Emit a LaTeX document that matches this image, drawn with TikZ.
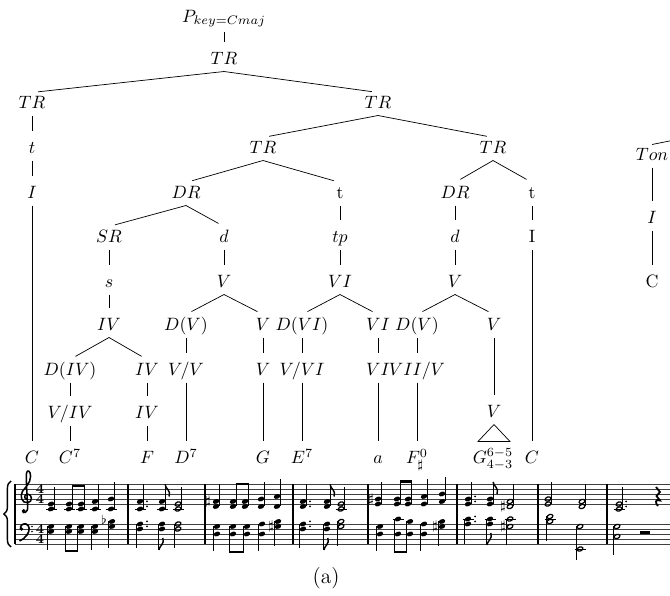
\documentclass[tikz,border=0pt]{standalone}
\usetikzlibrary{decorations.pathreplacing}
\newcommand\mNf[2]{\fill[rotate around={20:(#1,#2)}] (#1,#2) ellipse (3.3 and 2.3);}
\newcommand\mNo[2]{\draw[line width=0.7pt,rotate around={20:(#1,#2)}] (#1,#2) ellipse (3.0 and 2.0);}
\newcommand\mLd[2]{\draw[line width=0.5pt] ({#1-5.5},#2) -- ({#1+5.5},#2);}
\newcommand\mDot[2]{\fill (#1,#2) circle (1);}
\newcommand\mSt[3]{\draw[line width=0.5pt] (#1,#2) -- (#1,#3);}
\newcommand\mBeam[3]{\draw[line width=1.3pt] ({#1-0.25},#3) -- ({#2+0.25},#3);}
\newcommand\mFlU[2]{\draw[line width=0.8pt] (#1,#2) .. controls ({#1+0.4},{#2+4.5}) and ({#1+6},{#2+5.5}) .. ({#1+4},{#2+12});}
\newcommand\mFlD[2]{\draw[line width=0.8pt] (#1,#2) .. controls ({#1+0.4},{#2-4.5}) and ({#1+6},{#2-5.5}) .. ({#1+4},{#2-12});}
\begin{document}
\begin{tikzpicture}[x=0.56pt,y=-0.56pt,
  lab/.style={inner xsep=0.5pt,inner ysep=2pt,text height=7pt,text depth=1.5pt},
  br/.style={shorten >=3.5pt},
  acc/.style={inner sep=0pt,font=\scriptsize},
  tsig/.style={inner sep=0pt,text height=4.6pt,text depth=0pt,font=\fontsize{7.5}{7.5}\selectfont\bfseries},
  staffl/.style={line width=0.45pt,black!75},
  barl/.style={line width=0.6pt}]
\useasboundingbox (0,0) rectangle (670,596);
\clip (0,0) rectangle (670,596);
% ---------------- tree ----------------
\node[lab,text depth=3.5pt] (P) at (224,19) {$P_{key=Cmaj}$};
\node[lab] (TR0) at (224,60) {$TR$};
\node[lab] (TRa) at (32,104) {$TR$};
\node[lab] (TRb) at (378,104) {$TR$};
\node[lab] (ta) at (32,149) {$t$};
\node[lab] (TRc) at (263,149) {$TR$};
\node[lab] (TRd) at (493,149) {$TR$};
\node[lab] (Ia) at (32,194) {$I$};
\node[lab] (DRa) at (186,194) {$DR$};
\node[lab] (tb) at (340,194) {t};
\node[lab] (DRb) at (455,194) {$DR$};
\node[lab] (tc) at (532,194) {t};
\node[lab] (SR) at (109,238) {$SR$};
\node[lab] (da) at (224,238) {$d$};
\node[lab] (tp) at (340,238) {$tp$};
\node[lab] (db) at (455,238) {$d$};
\node[lab] (Ib) at (532,238) {I};
\node[lab] (s) at (109,283) {$s$};
\node[lab] (Va) at (224,283) {$V$};
\node[lab] (VIa) at (340,283) {$VI$};
\node[lab] (Vb) at (455,283) {$V$};
\node[lab] (IVa) at (109,326) {$IV$};
\node[lab] (DVa) at (186,326) {$D(V)$};
\node[lab] (Vc) at (263,326) {$V$};
\node[lab] (DVI) at (302,326) {$D(VI)$};
\node[lab] (VIb) at (378,326) {$VI$};
\node[lab] (DVb) at (417,326) {$D(V)$};
\node[lab] (Vd) at (494,326) {$V$};
\node[lab] (DIV) at (70,371) {$D(IV)$};
\node[lab] (IVb) at (147,371) {$IV$};
\node[lab] (VV) at (186,371) {$V/V$};
\node[lab] (Ve) at (263,371) {$V$};
\node[lab] (VVI) at (302,371) {$V/VI$};
\node[lab] (VIc) at (378,371) {$VI$};
\node[lab] (VIIV) at (417,371) {$VII/V$};
\node[lab] (VIV) at (70,414) {$V/IV$};
\node[lab] (IVc) at (147,414) {$IV$};
\node[lab] (Vf) at (494,413) {$V$};
\node[lab] (C1) at (32,459) {$C$};
\node[lab] (C7) at (70,459) {$C^7$};
\node[lab] (Fn) at (147,459) {$F$};
\node[lab] (D7) at (186,459) {$D^7$};
\node[lab] (Gn) at (263,459) {$G$};
\node[lab] (E7) at (302,459) {$E^7$};
\node[lab] (an) at (378,459) {$a$};
\node[lab] (Fo) at (417,459) {$F^0_\sharp$};
\node[lab] (G65) at (493,459) {$G^{6-5}_{4-3}$};
\node[lab] (C2) at (532,459) {$C$};
% right partial tree
\node[lab,anchor=east] (Ton) at (669.5,156) {$Ton$};
\node[lab] (Ir) at (Ton.center |- 0,219) {$I$};
\node[lab] (Cr) at (Ton.center |- 0,283) {C};
\coordinate (offR) at (730,129);
\node[font=\large] (cap) at (326,578) {(a)};
% edges
\draw[br] (P.south) -- (TR0.north);
\draw[br] (TR0.south) -- (TRa.north);
\draw[br] (TR0.south) -- (TRb.north);
\draw[br] (TRa.south) -- (ta.north);
\draw[br] (ta.south) -- (Ia.north);
\draw[br] (Ia.south) -- (C1.north);
\draw[br] (TRb.south) -- (TRc.north);
\draw[br] (TRb.south) -- (TRd.north);
\draw[br] (TRc.south) -- (DRa.north);
\draw[br] (TRc.south) -- (tb.north);
\draw[br] (TRd.south) -- (DRb.north);
\draw[br] (TRd.south) -- (tc.north);
\draw[br] (DRa.south) -- (SR.north);
\draw[br] (DRa.south) -- (da.north);
\draw[br] (SR.south) -- (s.north);
\draw[br] (s.south) -- (IVa.north);
\draw[br] (IVa.south) -- (DIV.north);
\draw[br] (IVa.south) -- (IVb.north);
\draw[br] (DIV.south) -- (VIV.north);
\draw[br] (VIV.south) -- (C7.north);
\draw[br] (IVb.south) -- (IVc.north);
\draw[br] (IVc.south) -- (Fn.north);
\draw[br] (da.south) -- (Va.north);
\draw[br] (Va.south) -- (DVa.north);
\draw[br] (Va.south) -- (Vc.north);
\draw[br] (DVa.south) -- (VV.north);
\draw[br] (VV.south) -- (D7.north);
\draw[br] (Vc.south) -- (Ve.north);
\draw[br] (Ve.south) -- (Gn.north);
\draw[br] (tb.south) -- (tp.north);
\draw[br] (tp.south) -- (VIa.north);
\draw[br] (VIa.south) -- (DVI.north);
\draw[br] (VIa.south) -- (VIb.north);
\draw[br] (DVI.south) -- (VVI.north);
\draw[br] (VVI.south) -- (E7.north);
\draw[br] (VIb.south) -- (VIc.north);
\draw[br] (VIc.south) -- (an.north);
\draw[br] (DRb.south) -- (db.north);
\draw[br] (db.south) -- (Vb.north);
\draw[br] (Vb.south) -- (DVb.north);
\draw[br] (Vb.south) -- (Vd.north);
\draw[br] (DVb.south) -- (VIIV.north);
\draw[br] (VIIV.south) -- (Fo.north);
\draw[br] (Vd.south) -- (Vf.north);
\draw (Vf.south) -- ++(-16,17) -- ++(32,0) -- cycle;
\draw[br] (tc.south) -- (Ib.north);
\draw[br] (Ib.south) -- (C2.north);
\draw (Ton.north) -- (offR);
\draw[br] (Ton.south) -- (Ir.north);
\draw[br] (Ir.south) -- (Cr.north);
% ---------------- staff ----------------
\foreach \yy in {484,489,494,499,504,524,529,534,539,544}
  \draw[staffl] (15,\yy) -- (670,\yy);
\foreach \bx in {15,128,205,293,368,457,538,607}
  \draw[barl] (\bx,484) -- (\bx,544);
\draw[decorate,decoration={brace,amplitude=4pt,mirror},line width=0.8pt] (11,481) -- (11,547);
% treble clef
\begin{scope}[shift={(26,497)},scale=1.15,shift={(-26,-497)}]
\draw[line width=0.85pt] (26.5,499) .. controls (24,498) and (24.5,494.5) .. (27.5,494.5)
  .. controls (31.5,494.5) and (32,501.5) .. (27.5,502)
  .. controls (22,502.5) and (20.5,496) .. (23,492)
  .. controls (25,489) and (30,485) .. (30,479)
  .. controls (30,474) and (27,473) .. (26.5,476)
  .. controls (26,479) and (26.5,490) .. (27.5,505)
  .. controls (28,511) and (23,512) .. (23,509);
\fill (24,509) circle (1.7);
\end{scope}
% bass clef
\fill (21.5,529) circle (1.9);
\draw[line width=0.9pt] (20.5,529) .. controls (20,525) and (23,523.5) .. (26,524)
  .. controls (30,525) and (30,531) .. (27,535) .. controls (25,538) and (22,540) .. (19.5,541);
\fill (32,526.5) circle (0.9);
\fill (32,531.5) circle (0.9);
% time signatures
\node[tsig] (ts1) at (40,489) {4};
\node[tsig] (ts2) at (40,499) {4};
\node[tsig] (ts3) at (40,529) {4};
\node[tsig] (ts4) at (40,539) {4};
% ---------- treble notes ----------
% m1
\mNf{51}{509}\mNf{51}{504}\mLd{51}{509}\mSt{54.1}{509}{487}
\mNf{69}{509}\mNf{69}{504}\mLd{69}{509}\mSt{72.1}{509}{485}
\mNf{81}{509}\mNf{81}{504}\mLd{81}{509}\mSt{84.1}{509}{485}
\mBeam{72.1}{84.1}{486}
\mNf{95}{509}\mNf{95}{501.5}\mLd{95}{509}\mSt{98.1}{509}{484.5}
\mNf{111}{509}\mNf{111}{499}\mLd{111}{509}\mSt{114.1}{509}{482}
% m2
\mNf{140}{509}\mNf{140}{501.5}\mLd{140}{509}\mSt{143.1}{509}{484.5}\mDot{147}{501.5}\mDot{147}{506.5}
\mNf{162}{509}\mNf{162}{501.5}\mLd{162}{509}\mSt{165.1}{509}{484.5}\mFlU{165.1}{484.5}
\mNo{178}{509}\mNo{178}{504}\mLd{178}{509}\mSt{181.1}{509}{487}
% m3
\node[acc] (sh1) at (208,501.5) {$\sharp$};
\mNf{216}{506.5}\mNf{216}{501.5}\mSt{219.1}{506.5}{484.5}
\mNf{233}{506.5}\mNf{233}{501.5}\mSt{236.1}{506.5}{483}
\mNf{245}{506.5}\mNf{245}{501.5}\mSt{248.1}{506.5}{483}
\mBeam{236.1}{248.1}{484}
\mNf{261}{506.5}\mNf{261}{499}\mSt{264.1}{506.5}{482}
\mNf{277}{506.5}\mNf{277}{496.5}\mSt{280.1}{506.5}{479.5}
% m4
\mNf{303}{506.5}\mNf{303}{501.5}\mSt{306.1}{506.5}{484.5}\mDot{310}{501.5}\mDot{310}{506.5}
\mNf{327}{506.5}\mNf{327}{501.5}\mSt{330.1}{506.5}{484.5}\mFlU{330.1}{484.5}
\mNo{341}{509}\mNo{341}{504}\mLd{341}{509}\mSt{344.1}{509}{487}
% m5
\node[acc] (sh2) at (371,499) {$\sharp$};
\mNf{378}{504}\mNf{378}{499}\mSt{381.1}{504}{482}
\mNf{397}{504}\mNf{397}{499}\mSt{400.1}{504}{480.5}
\mNf{408}{504}\mNf{408}{499}\mSt{411.1}{504}{480.5}
\mBeam{400.1}{411.1}{481.5}
\mNf{424}{504}\mNf{424}{496.5}\mSt{427.1}{504}{479.5}
\mNf{442}{501.5}\mNf{442}{494}\mSt{445.1}{501.5}{477}
% m6
\mNf{468}{504}\mNf{468}{499}\mSt{471.1}{504}{482}\mDot{475}{501.5}\mDot{475}{496.5}
\mNf{490}{504}\mNf{490}{499}\mSt{493.1}{504}{482}\mFlU{493.1}{482}
\node[acc] (sh3) at (503,506.5) {$\sharp$};
\mNo{510}{506.5}\mNo{510}{501.5}\mSt{513.1}{506.5}{484.5}
% m7
\mNo{548}{504}\mNo{548}{499}\mSt{551.1}{504}{482}
\mNo{582}{506.5}\mNo{582}{501.5}\mSt{585.1}{506.5}{484.5}
% m8
\mNo{619}{509}\mNo{619}{504}\mLd{619}{509}\mSt{622.1}{509}{487}\mDot{626}{506.5}\mDot{626}{501.5}
\draw[line width=1pt] (656,487) -- (660,492) -- (656.5,496) -- (660,500.5)
  .. controls (655,498.5) and (655,503) .. (658,506);
% ---------- bass notes ----------
% m1
\mNf{51}{531.5}\mNf{51}{526.5}\mSt{47.9}{526.5}{550}
\mNf{69}{531.5}\mNf{69}{526.5}\mSt{65.9}{526.5}{552}
\mNf{81}{531.5}\mNf{81}{526.5}\mSt{77.9}{526.5}{552}
\mBeam{65.9}{77.9}{551}
\mNf{95}{531.5}\mNf{95}{526.5}\mSt{91.9}{526.5}{550}
\node[acc] (fl1) at (104,520) {$\flat$};
\mNf{112}{526.5}\mNf{112}{521.5}\mSt{108.9}{521.5}{548}
% m2
\mNf{140}{529}\mNf{140}{524}\mSt{136.9}{524}{548}\mDot{147}{526.5}\mDot{147}{521.5}
\mNf{162}{529}\mNf{162}{524}\mSt{158.9}{524}{550}\mFlD{158.9}{550}
\mNo{178}{529}\mNo{178}{524}\mSt{174.9}{524}{548}
% m3
\mNf{217}{534}\mNf{217}{526.5}\mSt{213.9}{526.5}{551}
\mNf{233}{534}\mNf{233}{526.5}\mSt{229.9}{526.5}{553}
\mNf{247}{534}\mNf{247}{526.5}\mSt{243.9}{526.5}{553}
\mBeam{229.9}{243.9}{552}
\mNf{262}{534}\mNf{262}{524}\mSt{258.9}{524}{551}
\node[acc] (sh4) at (271,526.5) {$\sharp$};
\mNf{278}{526.5}\mNf{278}{521.5}\mSt{274.9}{521.5}{546}
% m4
\mNf{303}{529}\mNf{303}{524}\mSt{299.9}{524}{548}\mDot{310}{526.5}\mDot{310}{521.5}
\mNf{327}{529}\mNf{327}{524}\mSt{323.9}{524}{550}\mFlD{323.9}{550}
\mNo{341}{526.5}\mNo{341}{521.5}\mSt{337.9}{521.5}{546}
% m5
\mNf{380}{534}\mNf{380}{526.5}\mSt{376.9}{526.5}{551}
\mNf{398}{534}\mNf{398}{519}\mLd{398}{519}\mSt{394.9}{519}{553}
\mNf{410}{534}\mNf{410}{521.5}\mSt{406.9}{521.5}{553}
\mBeam{394.9}{406.9}{552}
\mNf{424}{534}\mNf{424}{524}\mSt{420.9}{524}{551}
\node[acc] (sh5) at (435,526.5) {$\sharp$};
\mNf{442}{526.5}\mNf{442}{521.5}\mSt{438.9}{521.5}{546}
% m6
\mNf{468}{524}\mNf{468}{519}\mLd{468}{519}\mSt{464.9}{519}{544}\mDot{475}{521.5}\mDot{475}{516.5}
\mNf{490}{524}\mNf{490}{519}\mLd{490}{519}\mSt{486.9}{519}{545}\mFlD{486.9}{545}
\node[acc] (sh6) at (503,526.5) {$\sharp$};
\mNo{510}{526.5}\mNo{510}{519}\mLd{510}{519}\mSt{506.9}{519}{545}
% m7
\mNo{550}{521.5}\mNo{550}{516.5}\mLd{550}{519}\mSt{546.9}{516.5}{541}
\mNo{580}{526.5}\mNo{580}{549}\mLd{580}{549}\mSt{576.9}{526.5}{560}
% m8
\mNo{617}{536.5}\mNo{617}{526.5}\mSt{613.9}{526.5}{555}
\fill (640,531.5) rectangle (650,534);
\end{tikzpicture}
\end{document}
